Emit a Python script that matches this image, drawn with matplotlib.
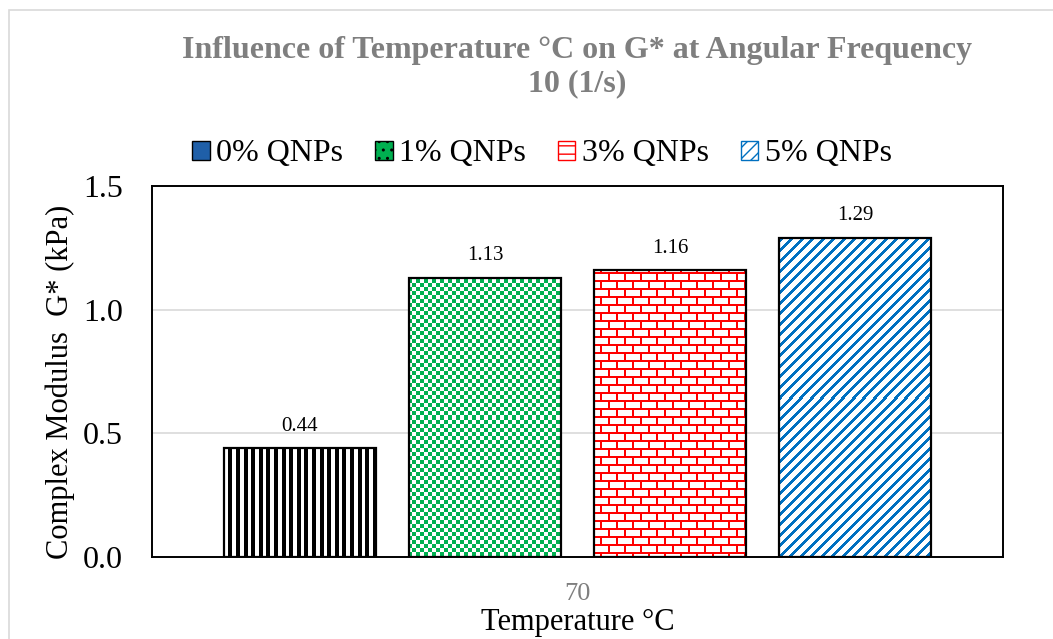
import numpy as np
import matplotlib
matplotlib.use("Agg")
import matplotlib.pyplot as plt
from matplotlib.patches import Patch, Rectangle

# ---- data ----
categories = ["70"]
series_names = ["0% QNPs", "1% QNPs", "3% QNPs", "5% QNPs"]
values = [0.44, 1.13, 1.16, 1.29]
yticks = [0.0, 0.5, 1.0, 1.5]

title = "Influence of Temperature °C on G* at Angular Frequency\n10 (1/s)"
xlabel = "Temperature °C"
ylabel = "Complex Modulus  G* (kPa)"

plt.rcParams["font.family"] = ["Liberation Serif", "DejaVu Serif"]

W, H, DPI = 1053, 639, 100
fig = plt.figure(figsize=(W / DPI, H / DPI), dpi=DPI)

L, R, T, B = 152, 1003, 186, 557
ax = fig.add_axes([L / W, 1 - B / H, (R - L) / W, (B - T) / H])

# outer chart frame
fig.patches.append(Rectangle((9 / W, -0.01), 1.1, 1 - 10 / H + 0.01,
                             transform=fig.transFigure, fill=False,
                             edgecolor="#d9d9d9", linewidth=1.2, zorder=0))

n = len(values)
width = 0.1786
step = 0.2174
offsets = (np.arange(n) - (n - 1) / 2) * step
x0 = 0

ax.set_xlim(-0.5, 0.5)
ax.set_ylim(0, 1.5)
ax.set_yticks(yticks)
ax.set_yticklabels([f"{v:.1f}" for v in yticks], fontsize=23)
ax.set_xticks([x0])
ax.set_xticklabels(categories, fontsize=19, color="#7f7f7f")
ax.tick_params(axis="both", length=0)
ax.tick_params(axis="x", pad=19)
ax.tick_params(axis="y", pad=21)
ax.grid(axis="y", color="#d9d9d9", linewidth=1.2, zorder=0)
ax.set_axisbelow(True)
for s in ax.spines.values():
    s.set_linewidth(1.4)
    s.set_color("black")

ax.set_xlabel(xlabel, fontsize=22, va="top")
ax.xaxis.set_label_coords(0.5, -(608 - B) / (B - T))
ax.set_ylabel(ylabel, fontsize=22)
ax.yaxis.set_label_coords(-(L - 75) / (R - L), (B - 382) / (B - T))

fig.suptitle(title, x=(L + R) / 2 / W, y=1 - 36 / H, va="top", fontsize=23,
             fontweight="bold", color="#7f7f7f", linespacing=1.2)


def pattern(kind, h, w, px0, py0):
    ii, jj = np.mgrid[0:h, 0:w]
    ii = ii + py0
    jj = jj + px0
    img = np.ones((h, w, 3))
    if kind == "vstripe":
        mask = (jj % 7.6) < 4.0
        col = (0, 0, 0)
    elif kind == "checker":
        mask = ((ii // 4) + (jj // 4)) % 2 == 0
        col = (0 / 255, 176 / 255, 80 / 255)
    elif kind == "brick":
        row = ii // 8
        yy = ii % 8
        mask = (yy < 2) | (((jj + (row % 2) * 8) % 16) < 2)
        col = (1.0, 0.0, 0.0)
    else:
        mask = ((ii + jj) % 10.5) < 3.6
        col = (0 / 255, 112 / 255, 192 / 255)
    img[mask] = col
    return img


kinds = ["vstripe", "checker", "brick", "diag"]
bars = []
for k, (off, v) in enumerate(zip(offsets, values)):
    b = ax.bar(x0 + off, v, width=width, color="white", edgecolor="none",
               zorder=2)[0]
    bars.append(b)

fig.canvas.draw()
for k, b in enumerate(bars):
    bx0, by0 = b.get_x(), b.get_y()
    bx1, by1 = bx0 + b.get_width(), by0 + b.get_height()
    (p0x, p0y), (p1x, p1y) = ax.transData.transform([(bx0, by0), (bx1, by1)])
    w = int(round(p1x - p0x))
    h = int(round(p1y - p0y))
    img = pattern(kinds[k], h, w, int(round(p0x)), int(round(H - p1y)))
    im = ax.imshow(img, extent=(bx0, bx1, by0, by1), origin="upper",
                   interpolation="nearest", aspect="auto", zorder=3)
    im.set_clip_path(b)
    ax.bar(b.get_x() + b.get_width() / 2, b.get_height(), width=width,
           fill=False, edgecolor="black", linewidth=1.6, zorder=4)
    ax.annotate(f"{values[k]:.2f}", (b.get_x() + b.get_width() / 2, b.get_height()),
                xytext=(0, 9), textcoords="offset points", ha="center",
                va="bottom", fontsize=15)

ax.set_xlim(-0.5, 0.5)
ax.set_ylim(0, 1.5)

handles = [
    Patch(facecolor="#1f5fa8", edgecolor="black", linewidth=1.0),
    Patch(facecolor="#00b050", edgecolor="black", hatch="..", linewidth=1.0),
    Patch(facecolor="white", edgecolor="red", hatch="--", linewidth=1.0),
    Patch(facecolor="white", edgecolor="#0070c0", hatch="///", linewidth=1.0),
]
leg = fig.legend(handles, series_names, loc="center",
                 bbox_to_anchor=(542 / W, 1 - 154 / H),
                 ncol=4, frameon=False, fontsize=23, handlelength=0.55,
                 handleheight=0.55, handletextpad=0.2, columnspacing=1.0)

fig.savefig("out.png", dpi=DPI)
